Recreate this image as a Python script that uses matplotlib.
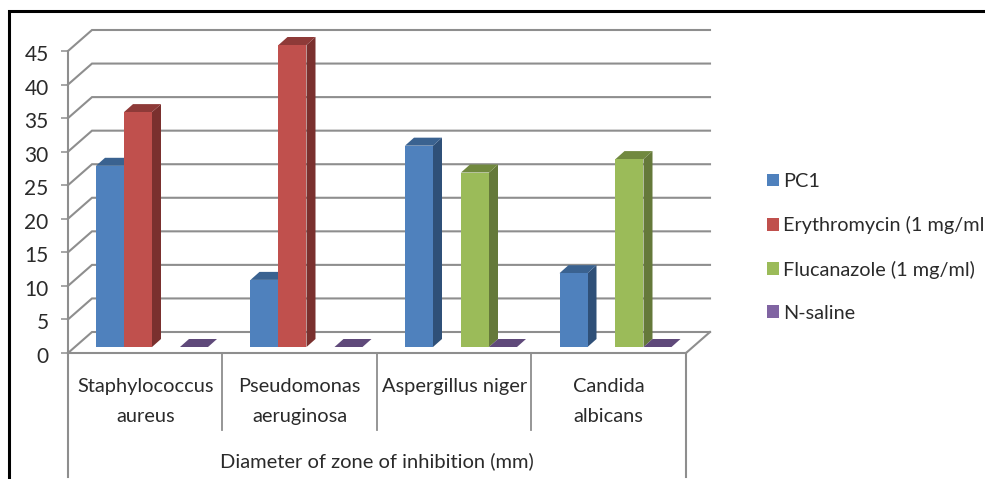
import numpy as np
import matplotlib
matplotlib.use("Agg")
import matplotlib.pyplot as plt
from matplotlib.lines import Line2D
from matplotlib.transforms import ScaledTranslation

categories = ["Staphylococcus\naureus", "Pseudomonas\naeruginosa", "Aspergillus niger", "Candida\nalbicans"]
series_names = ["PC1", "Erythromycin (1 mg/ml", "Flucanazole (1 mg/ml)", "N-saline"]
pc1 = [27, 10, 30, 11]
erythromycin = [35, 45, np.nan, np.nan]
flucanazole = [np.nan, np.nan, 26, 28]
n_saline = [0, 0, 0, 0]
axis_title = "Diameter of zone of inhibition (mm)"
y_ticks = list(range(0, 50, 5))

series = [pc1, erythromycin, flucanazole, n_saline]
front = ["#4F81BD", "#C0504D", "#9BBB59", "#8064A2"]
side = ["#2F5078", "#7A302E", "#65793A", "#523F6B"]
top = ["#3A6290", "#8E3A38", "#71893F", "#5F497A"]
grid_c = "#8E8E8E"
txt_c = "#2A2A2A"

W, H = 985, 479
plt.rcParams["font.family"] = ["Lato", "DejaVu Sans"]
fig = plt.figure(figsize=(W / 100, H / 100), dpi=100)
L, R, T, B = 68, 686, 51, 353
ax = fig.add_axes([L / W, 1 - B / H, (R - L) / W, (B - T) / H])
ax.set_xlim(0, 4)
ax.set_ylim(0, 45)
ux = (R - L) / 4      # px per category
uy = (B - T) / 45     # px per value unit
px = lambda v: v / ux
py = lambda v: v / uy

# walls
wall_dx, wall_dy = px(24), py(21)
for v in y_ticks:
    ax.plot([0, wall_dx, 4 + wall_dx], [v, v + wall_dy, v + wall_dy], color=grid_c, lw=1.5,
            clip_on=False, zorder=1, solid_joinstyle="miter")
ax.plot([4, 4 + wall_dx], [0, wall_dy], color=grid_c, lw=1.5, clip_on=False, zorder=1)

# bars
base_dx, base_dy = px(7), py(6)
depth_dx, depth_dy = px(9), py(8)
bar_w = px(28)
gap = px(21)
handles = []
for s, vals in enumerate(series):
    xs = np.arange(4) + gap + s * bar_w + base_dx
    vals = np.asarray(vals, dtype=float)
    for x, v in zip(xs, vals):
        if np.isnan(v):
            continue
        y0, y1 = base_dy, v + base_dy
        ax.fill([x + bar_w, x + bar_w + depth_dx, x + bar_w + depth_dx, x + bar_w],
                [y0, y0 + depth_dy, y1 + depth_dy, y1], color=side[s], lw=0, clip_on=False, zorder=3)
        ax.fill([x, x + depth_dx, x + bar_w + depth_dx, x + bar_w],
                [y1, y1 + depth_dy, y1 + depth_dy, y1], color=top[s], lw=0, clip_on=False, zorder=3)
    bars = ax.bar(xs, np.nan_to_num(vals), width=bar_w, bottom=base_dy, align="edge",
                  color=front[s], lw=0, clip_on=False, zorder=3, label=series_names[s])
    handles.append(bars)

# axes
for sp in ("top", "right"):
    ax.spines[sp].set_visible(False)
for sp in ("left", "bottom"):
    ax.spines[sp].set_color(grid_c)
    ax.spines[sp].set_linewidth(1.5)
ax.patch.set_alpha(0)
ax.set_yticks(y_ticks)
ax.tick_params(axis="y", length=5, width=1.1, color=grid_c, labelsize=15, labelcolor=txt_c, pad=9)
nudge = ScaledTranslation(0, -2 / 100, fig.dpi_scale_trans)
for t in ax.get_yticklabels():
    t.set_transform(t.get_transform() + nudge)
ax.set_xticks(np.arange(4) + 0.5)
ax.set_xticklabels(categories)
ax.tick_params(axis="x", length=0, labelsize=14.4, labelcolor=txt_c, pad=18)
for t in ax.get_xticklabels():
    t.set_linespacing(1.9)
    t.set_verticalalignment("top")
for x in [1, 2, 3]:
    ax.plot([x, x], [0, py(-77)], color=grid_c, lw=1.3, clip_on=False)
for x in [0, 4]:
    ax.plot([x, x], [0, py(-124)], color=grid_c, lw=1.5, clip_on=False)
ax.text(2, py(-108), axis_title, ha="center", va="center", fontsize=14.5, color=txt_c)

# legend
fig.legend(handles=handles, labels=series_names, loc="upper left", frameon=False,
           bbox_to_anchor=(767 / W, 1 - 173 / H), borderaxespad=0, borderpad=0,
           fontsize=14.3, labelspacing=1.32, handlelength=0.6, handleheight=0.6,
           handletextpad=0.2, labelcolor=txt_c)

# picture frame
fig.add_artist(Line2D([9 / W, 9 / W, 1], [0, 1 - 11 / H, 1 - 11 / H], color="black", lw=2.2,
                      solid_joinstyle="miter"))
fig.savefig("out.png", dpi=100)
